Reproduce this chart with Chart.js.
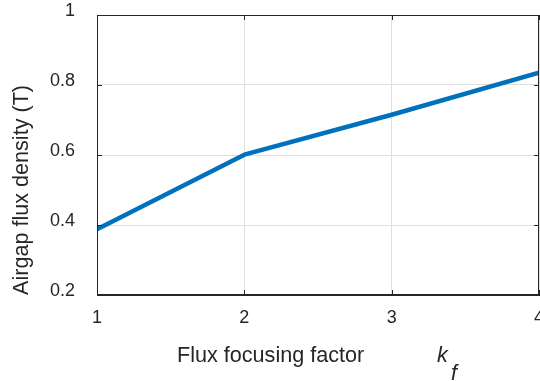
<!DOCTYPE html>
<html>
<head>
<meta charset="utf-8">
<script src="https://cdn.jsdelivr.net/npm/chart.js@4/dist/chart.umd.min.js"></script>
<style>
  html, body { margin: 0; padding: 0; background: #ffffff; }
  #wrap { width: 540px; height: 381px; }
</style>
</head>
<body>
<div id="wrap"><canvas id="c" width="540" height="381"></canvas></div>
<script>
// Airgap flux density versus flux focusing factor
const focusingFactor = [1, 2, 3, 4];
const airgapFluxDensity = [0.388, 0.601, 0.715, 0.835];
const xTickValues = [1, 2, 3, 4];
const yTickValues = [0.2, 0.4, 0.6, 0.8, 1];
const xTitle = 'Flux focusing factor';
const xSymbol = 'k';
const xSymbolSub = 'f';
const yTitle = 'Airgap flux density (T)';

const FONT = '"Liberation Sans", Arial, Helvetica, sans-serif';
const INK = '#262626';
const AXIS = '#262626';
const GRID = '#dfdfdf';

// Box outline, inward tick marks and the x-axis title with its symbol
const boxPlugin = {
  id: 'box',
  afterDraw(chart) {
    const { ctx, chartArea: a, scales: { x, y } } = chart;
    const len = 5;
    ctx.save();
    ctx.strokeStyle = AXIS;
    ctx.lineWidth = 1;
    ctx.beginPath();
    ctx.moveTo(a.left + 0.5, a.top + 0.5);
    ctx.lineTo(a.right - 0.5, a.top + 0.5);
    ctx.lineTo(a.right - 0.5, a.bottom);
    ctx.moveTo(a.left + 0.5, a.bottom - 0.5);
    ctx.lineTo(a.right, a.bottom - 0.5);
    ctx.moveTo(a.left + 0.5, a.top);
    ctx.lineTo(a.left + 0.5, a.bottom);
    xTickValues.forEach(v => {
      const px = Math.round(x.getPixelForValue(v)) + 0.5;
      ctx.moveTo(px, a.bottom); ctx.lineTo(px, a.bottom - len);
      ctx.moveTo(px, a.top); ctx.lineTo(px, a.top + len);
    });
    yTickValues.forEach(v => {
      const py = Math.round(y.getPixelForValue(v)) + 0.5;
      ctx.moveTo(a.left, py); ctx.lineTo(a.left + len, py);
      ctx.moveTo(a.right, py); ctx.lineTo(a.right - len, py);
    });
    ctx.stroke();

    ctx.fillStyle = INK;
    ctx.textBaseline = 'alphabetic';
    ctx.textAlign = 'left';
    ctx.font = '21.6px ' + FONT;
    ctx.fillText(xTitle, 177, 362);
    ctx.font = 'italic 21.6px ' + FONT;
    ctx.fillText(xSymbol, 437, 362);
    ctx.fillText(xSymbolSub, 451, 380);
    ctx.restore();
  }
};

new Chart(document.getElementById('c'), {
  type: 'line',
  data: {
    datasets: [{
      data: focusingFactor.map((f, i) => ({ x: f, y: airgapFluxDensity[i] })),
      borderColor: '#0072BD',
      borderWidth: 4.5,
      pointRadius: 0,
      tension: 0,
      borderJoinStyle: 'round',
      clip: 0
    }]
  },
  options: {
    responsive: false,
    animation: false,
    devicePixelRatio: 1,
    layout: { padding: { top: 15, right: 1, left: 0, bottom: 0 } },
    plugins: { legend: { display: false }, tooltip: { enabled: false } },
    scales: {
      x: {
        type: 'linear',
        min: 1,
        max: 4,
        afterBuildTicks: s => { s.ticks = xTickValues.map(v => ({ value: v })); },
        afterFit: s => { s.height = 86; s.paddingLeft = 0; s.paddingRight = 0; },
        grid: { color: GRID, lineWidth: 1, drawTicks: false },
        border: { display: true, color: AXIS, width: 1 },
        ticks: {
          color: INK,
          font: { family: FONT, size: 18 },
          padding: 12,
          maxRotation: 0,
          autoSkip: false,
          callback: v => String(v)
        }
      },
      y: {
        type: 'linear',
        min: 0.2,
        max: 1,
        afterBuildTicks: s => { s.ticks = yTickValues.map(v => ({ value: v })); },
        afterFit: s => { s.width = 97; s.paddingTop = 0; s.paddingBottom = 0; },
        grid: { color: GRID, lineWidth: 1, drawTicks: false },
        border: { display: true, color: AXIS, width: 1 },
        ticks: {
          color: INK,
          font: { family: FONT, size: 18, lineHeight: 0.45 },
          padding: 22,
          autoSkip: false,
          callback: v => [String(Math.round(v * 10) / 10), '']
        },
        title: {
          display: true,
          text: yTitle,
          align: 'start',
          color: INK,
          font: { family: FONT, size: 21.6 },
          padding: { top: 9, bottom: 0 }
        }
      }
    }
  },
  plugins: [boxPlugin]
});
</script>
</body>
</html>
